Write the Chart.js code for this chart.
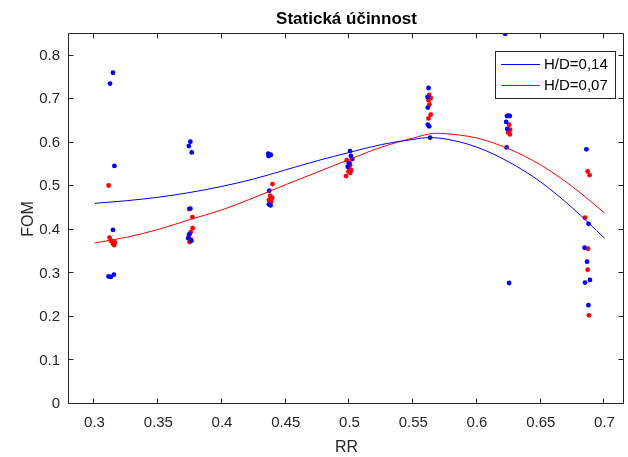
<!DOCTYPE html>
<html>
<head>
<meta charset="utf-8">
<script src="https://cdn.jsdelivr.net/npm/chart.js@4"></script>
<style>
  body { margin: 0; background: #fff; }
  #wrap { width: 628px; height: 457px; }
</style>
</head>
<body>
<div id="wrap"><canvas id="c" width="628" height="457"></canvas></div>
<script>
// tick positions
let xTicks = [0.3, 0.35, 0.4, 0.45, 0.5, 0.55, 0.6, 0.65, 0.7];
let xTickLabels = ['0.3', '0.35', '0.4', '0.45', '0.5', '0.55', '0.6', '0.65', '0.7'];
let yTicks = [0, 0.1, 0.2, 0.3, 0.4, 0.5, 0.6, 0.7, 0.8];
let yTickLabels = ['0', '0.1', '0.2', '0.3', '0.4', '0.5', '0.6', '0.7', '0.8'];

// fitted curves
let blueFitX = [0.300, 0.325, 0.350, 0.375, 0.400, 0.425, 0.450, 0.475, 0.500, 0.525, 0.550, 0.5625, 0.575, 0.600, 0.625, 0.650, 0.675, 0.700];
let blueFit  = [0.461, 0.467, 0.475, 0.486, 0.500, 0.517, 0.538, 0.559, 0.578, 0.596, 0.608, 0.612, 0.609, 0.590, 0.556, 0.510, 0.450, 0.381];
let redFitX  = [0.300, 0.325, 0.350, 0.375, 0.400, 0.425, 0.450, 0.475, 0.500, 0.525, 0.550, 0.5675, 0.575, 0.600, 0.625, 0.650, 0.675, 0.700];
let redFit   = [0.370, 0.383, 0.401, 0.424, 0.446, 0.474, 0.504, 0.533, 0.562, 0.590, 0.611, 0.622, 0.621, 0.611, 0.586, 0.549, 0.499, 0.439];

// measured points H/D=0,14
let blueX = [0.3122, 0.3145, 0.3156, 0.3145, 0.3110, 0.3128, 0.3152,
             0.3740, 0.3752, 0.3763, 0.3752, 0.3745, 0.3735, 0.3760,
             0.4363, 0.4376, 0.4365, 0.4383, 0.4371, 0.4368, 0.4381,
             0.5004, 0.5011, 0.5022, 0.4986, 0.4995,
             0.5620, 0.5612, 0.5614, 0.5614, 0.5625, 0.5632,
             0.6221, 0.6235, 0.6258, 0.6229, 0.6237, 0.6232, 0.6252,
             0.6858, 0.6875, 0.6844, 0.6863, 0.6886, 0.6847, 0.6874];
let blueY = [0.736, 0.761, 0.547, 0.400, 0.293, 0.292, 0.297,
             0.5925, 0.6025, 0.578, 0.449, 0.390, 0.381, 0.375,
             0.575, 0.5726, 0.5696, 0.572, 0.490, 0.4586, 0.4563,
             0.581, 0.570, 0.5627, 0.545, 0.553,
             0.726, 0.705, 0.681, 0.642, 0.638, 0.612,
             0.8505, 0.6615, 0.6615, 0.648, 0.632, 0.5895, 0.278,
             0.585, 0.414, 0.359, 0.327, 0.285, 0.279, 0.227];

// measured points H/D=0,07
let redX = [0.3111, 0.3118, 0.3130, 0.3145, 0.3155, 0.3160,
            0.3742, 0.3768, 0.3770, 0.3755, 0.3740, 0.3755, 0.3745,
            0.4396, 0.4378, 0.4394, 0.4368, 0.4386,
            0.4978, 0.5001, 0.5005, 0.4998, 0.5012, 0.4992, 0.5006, 0.4973,
            0.5625, 0.5637, 0.5620, 0.5627, 0.5637, 0.5620,
            0.6248, 0.6252, 0.6260, 0.6244, 0.6258,
            0.6868, 0.6883, 0.6847, 0.6871, 0.6868, 0.6878];
let redY = [0.502, 0.382, 0.375, 0.368, 0.365, 0.371,
            0.448, 0.4295, 0.404, 0.395, 0.388, 0.378, 0.372,
            0.5053, 0.4784, 0.4738, 0.4685, 0.4647,
            0.560, 0.554, 0.549, 0.541, 0.537, 0.5335, 0.531, 0.5237,
            0.710, 0.703, 0.698, 0.688, 0.665, 0.656,
            0.663, 0.6415, 0.630, 0.624, 0.6194,
            0.5344, 0.526, 0.428, 0.3567, 0.3085, 0.2037];

let seriesNames = ['H/D=0,14', 'H/D=0,07'];
let seriesColors = ['#0000ff', '#ff0000'];
let titleText = 'Statická účinnost';

const FONT = '"Liberation Sans", Arial, Helvetica, sans-serif';
const AX = '#262626';

function pts(xs, ys) {
    let out = [];
    for (let i = 0; i < xs.length; i++) out.push({x: xs[i], y: ys[i]});
    return out;
}

// box, inward ticks, title and legend in MATLAB style
const matlabLook = {
    id: 'matlabLook',
    afterDraw(chart) {
        let ctx = chart.ctx;
        let a = chart.chartArea;
        let sx = chart.scales.x;
        let sy = chart.scales.y;
        let L = a.left - 0.5, R = a.right - 0.5, T = a.top - 0.5, B = a.bottom - 0.5;
        ctx.save();
        ctx.strokeStyle = AX;
        ctx.lineWidth = 1;
        ctx.beginPath();
        ctx.rect(L, T, R - L, B - T);
        let tl = 5;
        xTicks.forEach(v => {
            let px = Math.round(sx.getPixelForValue(v)) - 0.5;
            ctx.moveTo(px, B); ctx.lineTo(px, B - tl);
            ctx.moveTo(px, T); ctx.lineTo(px, T + tl);
        });
        yTicks.forEach(v => {
            let py = Math.round(sy.getPixelForValue(v)) - 0.5;
            ctx.moveTo(L, py); ctx.lineTo(L + tl, py);
            ctx.moveTo(R, py); ctx.lineTo(R - tl, py);
        });
        ctx.stroke();

        // title
        ctx.fillStyle = '#000';
        ctx.font = 'bold 17px ' + FONT;
        ctx.textAlign = 'center';
        ctx.textBaseline = 'middle';
        ctx.fillText(titleText, (a.left + a.right) / 2, 19);

        // legend
        let bx = 495.5, by = 51.5, bw = 120, bh = 47;
        ctx.fillStyle = '#fff';
        ctx.fillRect(bx, by, bw, bh);
        ctx.strokeStyle = AX;
        ctx.strokeRect(bx, by, bw, bh);
        ctx.font = '15px ' + FONT;
        ctx.textAlign = 'left';
        for (let i = 0; i < seriesNames.length; i++) {
            let ly = 64.5 + i * 21;
            ctx.strokeStyle = seriesColors[i];
            ctx.beginPath();
            ctx.moveTo(501, ly); ctx.lineTo(540, ly);
            ctx.stroke();
            ctx.fillStyle = '#000';
            ctx.fillText(seriesNames[i], 544, ly + 0.5);
        }
        ctx.restore();
    }
};

let data = {
    datasets: [{
        type: 'line',
        data: pts(blueFitX, blueFit),
        borderColor: seriesColors[0],
        borderWidth: 1,
        pointRadius: 0,
        cubicInterpolationMode: 'monotone',
        fill: false,
    }, {
        type: 'line',
        data: pts(redFitX, redFit),
        borderColor: seriesColors[1],
        borderWidth: 1,
        pointRadius: 0,
        cubicInterpolationMode: 'monotone',
        fill: false,
    }, {
        data: pts(blueX, blueY),
        backgroundColor: seriesColors[0],
        borderWidth: 0,
        pointRadius: 2.4,
    }, {
        data: pts(redX, redY),
        backgroundColor: seriesColors[1],
        borderWidth: 0,
        pointRadius: 2.4,
    }]
};

let config = {
    type: 'scatter',
    data: data,
    options: {
        responsive: false,
        animation: false,
        layout: { padding: { top: 34, right: 1, left: 0, bottom: 0 } },
        plugins: {
            legend: { display: false },
            title: { display: false },
            tooltip: { enabled: false },
        },
        scales: {
            x: {
                type: 'linear',
                min: 0.28,
                max: 0.7153,
                grid: { display: false, drawTicks: false },
                border: { display: false },
                afterBuildTicks: s => { s.ticks = xTicks.map(v => ({value: v})); },
                afterFit: s => { s.height = 53; },
                ticks: {
                    color: AX,
                    padding: 10,
                    maxRotation: 0,
                    font: { family: FONT, size: 15 },
                    callback: (v, i) => xTickLabels[i],
                },
                title: {
                    display: true,
                    text: 'RR',
                    color: AX,
                    font: { family: FONT, size: 16 },
                    padding: { top: 0, bottom: 0 },
                },
            },
            y: {
                type: 'linear',
                min: 0,
                max: 0.85,
                grid: { display: false, drawTicks: false },
                border: { display: false },
                afterBuildTicks: s => { s.ticks = yTicks.map(v => ({value: v})); },
                afterFit: s => { s.width = 69; },
                ticks: {
                    color: AX,
                    padding: 9,
                    font: { family: FONT, size: 15 },
                    callback: (v, i) => yTickLabels[i],
                },
                title: {
                    display: true,
                    text: 'FOM',
                    color: AX,
                    font: { family: FONT, size: 16 },
                    padding: { top: 19, bottom: 0 },
                },
            },
        },
    },
    plugins: [matlabLook],
};

new Chart(document.getElementById('c'), config);
</script>
</body>
</html>
